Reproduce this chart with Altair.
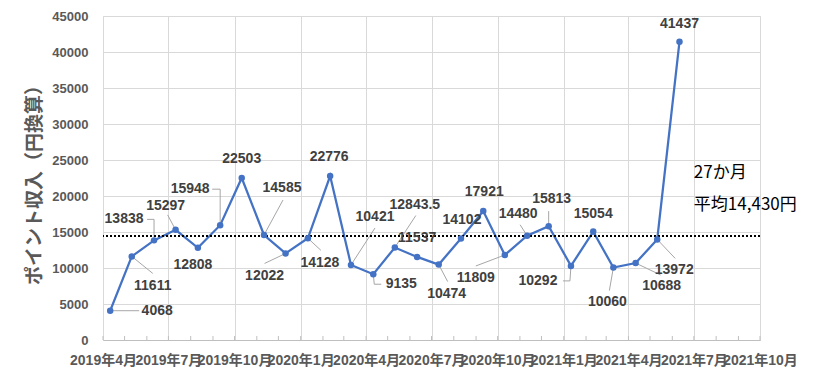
import altair as alt
import pandas as pd

# ---------------- data ----------------
MONTHS = ["2019-04", "2019-05", "2019-06", "2019-07", "2019-08", "2019-09",
          "2019-10", "2019-11", "2019-12", "2020-01", "2020-02", "2020-03",
          "2020-04", "2020-05", "2020-06", "2020-07", "2020-08", "2020-09",
          "2020-10", "2020-11", "2020-12", "2021-01", "2021-02", "2021-03",
          "2021-04", "2021-05", "2021-06"]
VALUES = [4068, 11611, 13838, 15297, 12808, 15948, 22503, 14585, 12022, 14128,
          22776, 10421, 9135, 12843.5, 11537, 10474, 14102, 17921, 11809, 14480,
          15813, 10292, 15054, 10060, 10688, 13972, 41437]
X_TICKS = ["2019-04", "2019-07", "2019-10", "2020-01", "2020-04", "2020-07",
           "2020-10", "2021-01", "2021-04", "2021-07", "2021-10"]
Y_TICKS = [0, 5000, 10000, 15000, 20000, 25000, 30000, 35000, 40000, 45000]
Y_TITLE = "ポイント収入（円換算）"

# ---------------- layout (pixels) ----------------
W, H = 657, 324
Y_MAX = 45000
POINT_SHIFT_DAYS = 10
# data-label offsets from their point (px, y downwards)
LABEL_DX = [47, 21, -30, -10, -5, -30, 0, 18, -21, 12, -1, 24, 28, 20, 0, 8,
            1, 1, -29, -9, 3, -33, 0, -6, 26, 17, 0]
LABEL_DY = [0, 30, -21, -24, 17, -36, -19, -47, 23, 25, -19, -48, 10, -43, -19,
            29, -18, -19, 23, -22, -27, 15, -18, 34, 23, 31, -18]
# leader lines (polyline offsets from the point, px)
LEADERS = {
    0: [(29, 0), (0, 0)],
    1: [(21, 17), (0, 0)],
    2: [(-7, -21), (0, -21), (0, 0)],
    3: [(-8, -15), (0, 0)],
    5: [(-8, -36), (0, -36), (0, 0)],
    7: [(19, -35), (0, 0)],
    8: [(-21, 10), (0, 0)],
    9: [(13, 12), (0, 0)],
    11: [(24, -37), (0, 0)],
    12: [(8, 10), (1, 10), (0, 0)],
    13: [(21, -32), (0, 0)],
    15: [(9, 17), (0, 0)],
    18: [(-29, 11), (0, 0)],
    19: [(-7, -11), (0, 0)],
    20: [(0, -15), (0, 0)],
    21: [(-8, 15), (-1, 15), (0, 0)],
    23: [(-4, 23), (0, 0)],
    24: [(25, 12), (0, 0)],
    25: [(18, 19), (0, 0)],
}
ANNOT_Y = [23200, 18750]


def ms(s):
    return int(pd.Timestamp(s).value // 10**6)


X_START, X_END = ms(X_TICKS[0] + "-01"), ms(X_TICKS[-1] + "-01")
PX_MS = (X_END - X_START) / W
PX_VAL = Y_MAX / H

pt_t = [ms(m + "-01") + POINT_SHIFT_DAYS * 86400000 for m in MONTHS]
points = pd.DataFrame({"t": pt_t, "v": VALUES})

labels = pd.DataFrame({
    "t": [t + dx * PX_MS for t, dx in zip(pt_t, LABEL_DX)],
    "v": [v - dy * PX_VAL for v, dy in zip(VALUES, LABEL_DY)],
    "txt": [f"{v:g}" for v in VALUES],
})

lrows = []
for i, poly in LEADERS.items():
    for k, (dx, dy) in enumerate(poly):
        lrows.append({"id": i, "seq": k, "t": pt_t[i] + dx * PX_MS,
                      "v": VALUES[i] - dy * PX_VAL})
leaders = pd.DataFrame(lrows)

minor = pd.DataFrame({"t": [ms(d) for d in pd.date_range(X_TICKS[0] + "-01",
                                                         X_TICKS[-1] + "-01", freq="MS")]})

mean_val = sum(VALUES) / len(VALUES)
avg = pd.DataFrame({"v": [mean_val]})
annot = pd.DataFrame({
    "t": [ms("2021-07-01")] * 2,
    "v": ANNOT_Y,
    "txt": [f"{len(VALUES)}か月", f"平均{int(mean_val):,}円"],
})

CJK = "Liberation Sans, Noto Sans CJK JP"
x_scale = alt.Scale(type="utc", domain=[X_START, X_END])
y_scale = alt.Scale(domain=[0, Y_MAX], nice=False)

x_axis = alt.Axis(values=[ms(t + "-01") for t in X_TICKS],
                  labelExpr="utcFormat(datum.value, '%Y') + '年' + (utcmonth(datum.value) + 1) + '月'",
                  grid=True, gridColor="#d9d9d9", gridWidth=1,
                  ticks=False, tickSize=0, domainColor="#bfbfbf", domainWidth=1,
                  labelOverlap=False, labelFlush=False, labelFont=CJK,
                  labelFontSize=14, labelFontWeight="bold", labelColor="#595959",
                  labelPadding=13, title=None)
y_axis = alt.Axis(values=Y_TICKS, format="d", grid=True, gridColor="#d9d9d9",
                  gridWidth=1, domain=False, ticks=False, tickSize=0,
                  labelPadding=15, labelFont="Liberation Sans", labelFontSize=13,
                  labelFontWeight="bold", labelColor="#595959",
                  title=Y_TITLE, titleFont="Noto Sans CJK JP", titleFontSize=19,
                  titleFontWeight="bold", titleColor="#595959", titleX=-69,
                  titleY=H / 2 + 2, titleAngle=270, titleAlign="center",
                  titleBaseline="middle")

X = alt.X("t:T", scale=x_scale, axis=x_axis)
Y = alt.Y("v:Q", scale=y_scale, axis=y_axis)

line = alt.Chart(points).mark_line(color="#4472C4", strokeWidth=2.25).encode(x=X, y=Y)
dots = alt.Chart(points).mark_point(filled=True, color="#4472C4", size=42,
                                    opacity=1).encode(x=X, y=Y)
ticks = alt.Chart(minor).mark_rule(color="#bfbfbf", strokeWidth=1).encode(
    x=X, y=alt.value(H), y2=alt.value(H - 4))
avg_line = alt.Chart(avg).mark_rule(color="black", strokeWidth=2,
                                    strokeDash=[2, 2]).encode(y=Y)
lead = alt.Chart(leaders).mark_line(color="#a6a6a6", strokeWidth=1).encode(
    x=X, y=Y, detail="id:N", order="seq:Q")
lab = alt.Chart(labels).mark_text(font="Liberation Sans", fontSize=14,
                                  fontWeight="bold", color="#404040",
                                  align="center", baseline="middle").encode(
    x=X, y=Y, text="txt:N")
ann = alt.Chart(annot).mark_text(font="Noto Sans CJK JP", fontSize=17,
                                 color="black", align="left",
                                 baseline="middle").encode(
    x=X, y=Y, text="txt:N")

chart = alt.layer(line, ticks, lead, avg_line, dots, lab, ann).properties(
    width=W, height=H,
    autosize=alt.AutoSizeParams(type="none"),
    padding={"left": 95, "top": 8, "right": 40, "bottom": 30},
).configure_view(stroke=None).configure(background="white")

chart.save("out.html", embed_options={"renderer": "svg", "actions": False})
